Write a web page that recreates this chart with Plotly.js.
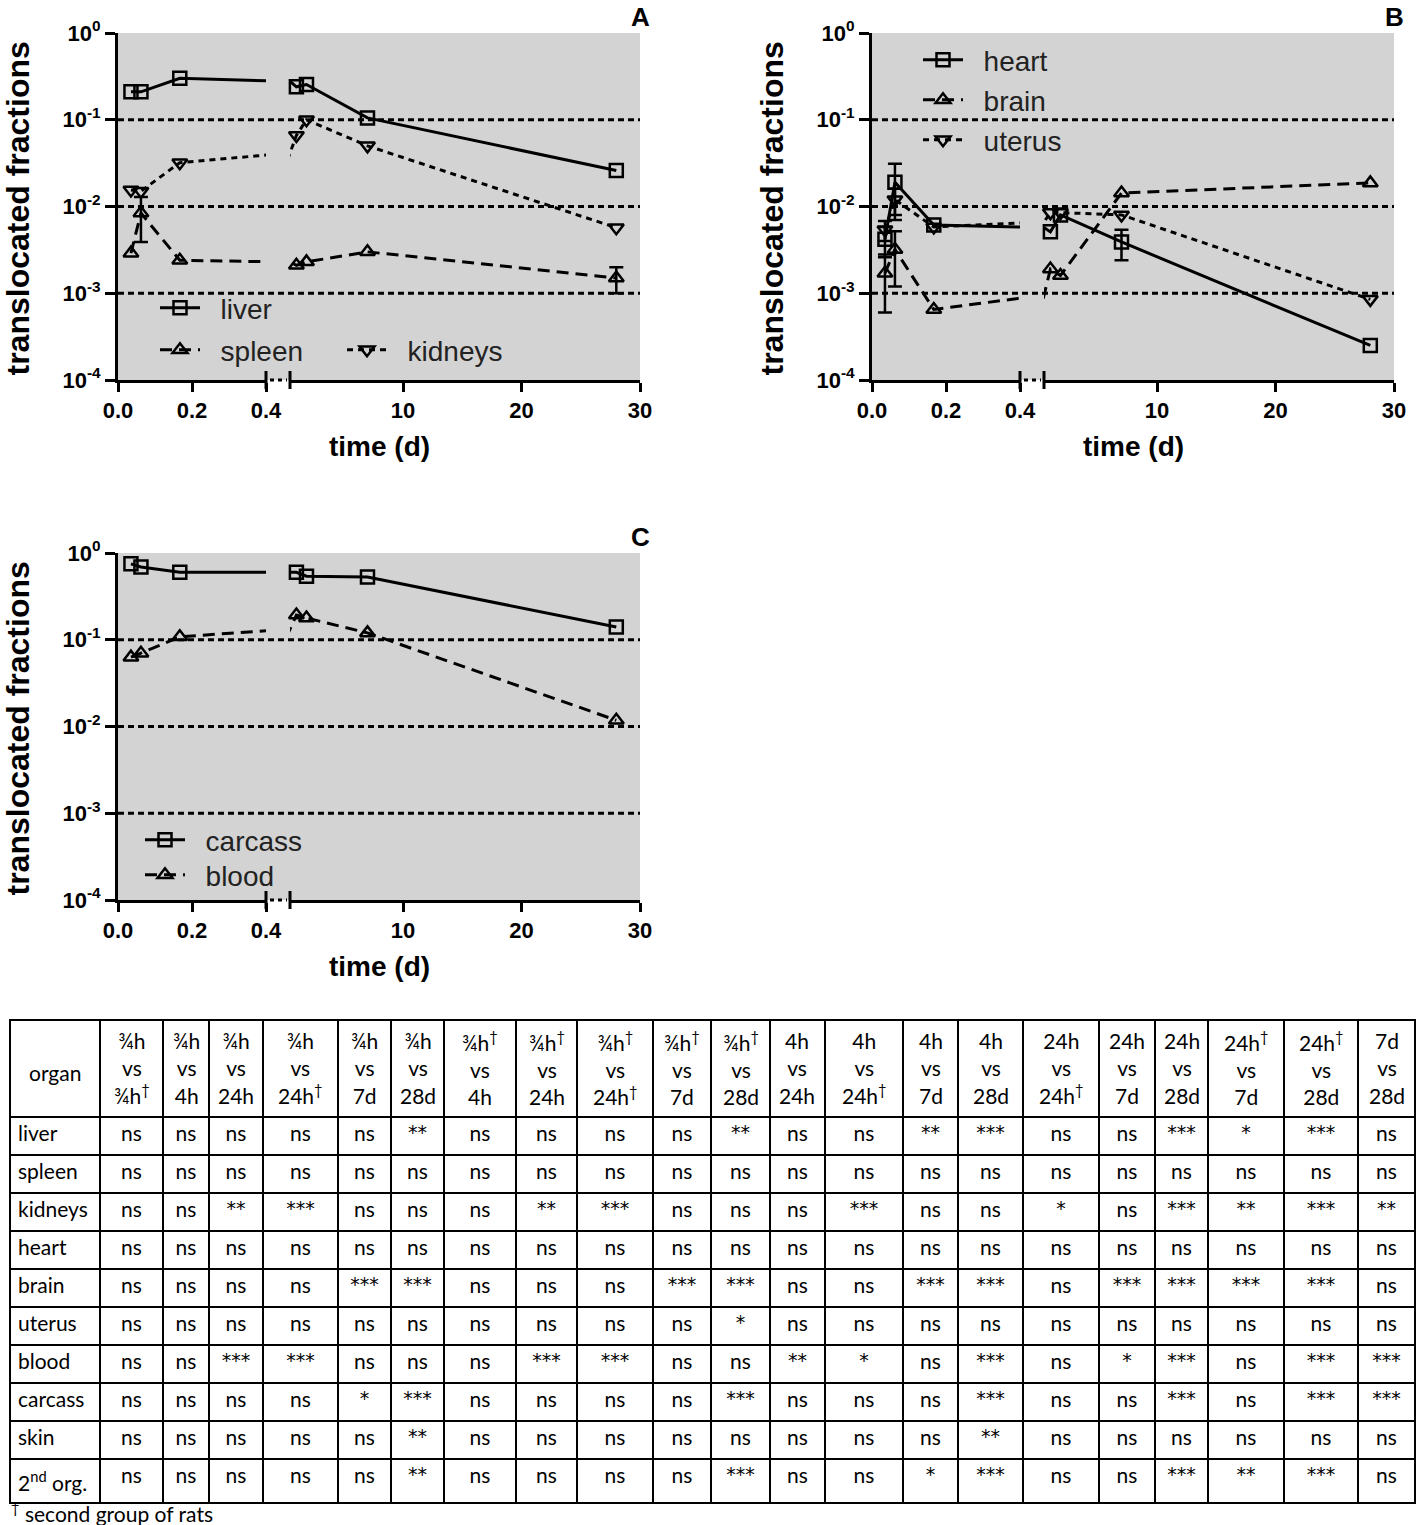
<!DOCTYPE html>
<html><head><meta charset="utf-8">
<script src="https://cdn.plot.ly/plotly-3.0.1.min.js"></script>
<style>html,body{margin:0;padding:0;background:#fff}#chart{width:1417px;height:1525px}</style>
</head><body><div id="chart"></div>
<script>
// ---------------- DATA ----------------
// sampling times in days: 3/4h, 3/4h (2nd group), 4h, 24h, 24h (2nd group), 7d, 28d
const timeDays = [0.035, 0.062, 0.167, 1.0, 1.85, 7, 28];

// Panel A
const liver      = [0.21, 0.21, 0.30, 0.24, 0.255, 0.105, 0.026];
const liverErr   = [null, null, null, null, null, null, null];
const spleen     = [0.0029, 0.0084, 0.0024, 0.0021, 0.0023, 0.0030, 0.0015];
const spleenErr  = [null, 0.0045, null, null, null, null, 0.0005];
const kidneys    = [0.0155, 0.015, 0.032, 0.066, 0.10, 0.050, 0.0057];
const kidneysErr = [null, null, null, null, null, null, null];

// Panel B
const heart      = [0.0042, 0.019, 0.0061, 0.0051, 0.0080, 0.0039, 0.00025];
const heartErr   = [0.0016, 0.012, null, null, null, 0.0015, null];
const brain      = [0.0017, 0.0032, 0.00065, 0.0019, 0.0016, 0.0143, 0.0187];
const brainErr   = [0.0011, 0.0020, null, null, null, null, null];
const uterus     = [0.0054, 0.012, 0.0058, 0.0085, 0.0085, 0.0080, 0.00085];
const uterusErr  = [0.0014, 0.004, null, null, null, null, null];

// Panel C
const carcass    = [0.75, 0.69, 0.60, 0.60, 0.54, 0.53, 0.14];
const carcassErr = [null, null, null, null, null, null, null];
const blood      = [0.063, 0.070, 0.108, 0.193, 0.178, 0.120, 0.0118];
const bloodErr   = [null, null, null, null, null, null, null];

// axis ticks
const leftTicks  = [0, 0.2, 0.4];
const leftTickText = ['0.0', '0.2', '0.4'];
const rightTicks = [10, 20, 30];
const yTicks     = [1e-4, 1e-3, 1e-2, 1e-1, 1];
const yTickText  = ['10<sup>-4</sup>', '10<sup>-3</sup>', '10<sup>-2</sup>', '10<sup>-1</sup>', '10<sup>0</sup>'];
const refLines   = [1e-1, 1e-2, 1e-3];

// Table
const tableHeaders = ['organ',
  '¾h<br>vs<br>¾h<sup>†</sup>', '¾h<br>vs<br>4h', '¾h<br>vs<br>24h', '¾h<br>vs<br>24h<sup>†</sup>', '¾h<br>vs<br>7d', '¾h<br>vs<br>28d',
  '¾h<sup>†</sup><br>vs<br>4h', '¾h<sup>†</sup><br>vs<br>24h', '¾h<sup>†</sup><br>vs<br>24h<sup>†</sup>', '¾h<sup>†</sup><br>vs<br>7d', '¾h<sup>†</sup><br>vs<br>28d',
  '4h<br>vs<br>24h', '4h<br>vs<br>24h<sup>†</sup>', '4h<br>vs<br>7d', '4h<br>vs<br>28d',
  '24h<br>vs<br>24h<sup>†</sup>', '24h<br>vs<br>7d', '24h<br>vs<br>28d',
  '24h<sup>†</sup><br>vs<br>7d', '24h<sup>†</sup><br>vs<br>28d', '7d<br>vs<br>28d'];
const organs = ['liver', 'spleen', 'kidneys', 'heart', 'brain', 'uterus', 'blood', 'carcass', 'skin', '2<sup>nd</sup>\u00a0org.'];
const sigLiver   = ['ns','ns','ns','ns','ns','**','ns','ns','ns','ns','**','ns','ns','**','***','ns','ns','***','*','***','ns'];
const sigSpleen  = ['ns','ns','ns','ns','ns','ns','ns','ns','ns','ns','ns','ns','ns','ns','ns','ns','ns','ns','ns','ns','ns'];
const sigKidneys = ['ns','ns','**','***','ns','ns','ns','**','***','ns','ns','ns','***','ns','ns','*','ns','***','**','***','**'];
const sigHeart   = ['ns','ns','ns','ns','ns','ns','ns','ns','ns','ns','ns','ns','ns','ns','ns','ns','ns','ns','ns','ns','ns'];
const sigBrain   = ['ns','ns','ns','ns','***','***','ns','ns','ns','***','***','ns','ns','***','***','ns','***','***','***','***','ns'];
const sigUterus  = ['ns','ns','ns','ns','ns','ns','ns','ns','ns','ns','*','ns','ns','ns','ns','ns','ns','ns','ns','ns','ns'];
const sigBlood   = ['ns','ns','***','***','ns','ns','ns','***','***','ns','ns','**','*','ns','***','ns','*','***','ns','***','***'];
const sigCarcass = ['ns','ns','ns','ns','*','***','ns','ns','ns','ns','***','ns','ns','ns','***','ns','ns','***','ns','***','***'];
const sigSkin    = ['ns','ns','ns','ns','ns','**','ns','ns','ns','ns','ns','ns','ns','ns','**','ns','ns','ns','ns','ns','ns'];
const sig2nd     = ['ns','ns','ns','ns','ns','**','ns','ns','ns','ns','***','ns','ns','*','***','ns','ns','***','**','***','ns'];
const sigRows = [sigLiver, sigSpleen, sigKidneys, sigHeart, sigBrain, sigUterus, sigBlood, sigCarcass, sigSkin, sig2nd];

// ---------------- LAYOUT HELPERS ----------------
const W = 1417, H = 1525;
const px = v => v / W;
const py = v => 1 - v / H;
const FONT = 'Liberation Sans, Arial, sans-serif';
const TFONT = 'Lato, Open Sans, sans-serif';
const STARFONT = 'DejaVu Sans, sans-serif';
const TSIZE = 21;
const LEFT_RANGE = [0, 0.4];
const RIGHT_RANGE = [0.46, 30];
const NB = '\u00a0\u00a0';

const panels = [
  {id:'A', xl:'x',  xr:'x2', xlk:'xaxis',  xrk:'xaxis2', y:'y',  yk:'yaxis',  L:118, B1:266, B2:290, R:640,  T:33,  Bt:380},
  {id:'B', xl:'x3', xr:'x4', xlk:'xaxis3', xrk:'xaxis4', y:'y2', yk:'yaxis2', L:872, B1:1020, B2:1044, R:1394, T:33,  Bt:380},
  {id:'C', xl:'x5', xr:'x6', xlk:'xaxis5', xrk:'xaxis6', y:'y3', yk:'yaxis3', L:118, B1:266, B2:290, R:640,  T:553, Bt:900},
];

const traces = [];
function addSeries(p, name, y, err, symbol, dash, legendId) {
  const segs = [[p.xl, LEFT_RANGE], [p.xr, RIGHT_RANGE]];
  segs.forEach((s, i) => {
    const e = err.map((v, k) => (v != null && timeDays[k] >= s[1][0] && timeDays[k] <= s[1][1]) ? v : NaN);
    traces.push({
      type: 'scatter', mode: 'lines+markers', name: NB + name,
      x: timeDays, y: y, xaxis: s[0], yaxis: p.y,
      showlegend: i === 0, legend: legendId, cliponaxis: false,
      line: {color: '#000', width: 3, dash: dash},
      marker: {symbol: symbol, size: 13, color: '#000', line: {color: '#000', width: 2.5}},
      error_y: {type: 'data', array: e, visible: true, color: '#000', thickness: 2.5, width: 7}
    });
  });
}
const SOLID = 'solid', DASH = '12px,7px', DOT = '6px,5px';
addSeries(panels[0], 'liver', liver, liverErr, 'square-open', SOLID, 'legend');
addSeries(panels[0], 'spleen', spleen, spleenErr, 'triangle-up-open', DASH, 'legend2');
addSeries(panels[0], 'kidneys', kidneys, kidneysErr, 'triangle-down-open', DOT, 'legend3');
addSeries(panels[1], 'heart', heart, heartErr, 'square-open', SOLID, 'legend4');
addSeries(panels[1], 'brain', brain, brainErr, 'triangle-up-open', DASH, 'legend5');
addSeries(panels[1], 'uterus', uterus, uterusErr, 'triangle-down-open', DOT, 'legend6');
addSeries(panels[2], 'carcass', carcass, carcassErr, 'square-open', SOLID, 'legend7');
addSeries(panels[2], 'blood', blood, bloodErr, 'triangle-up-open', DASH, 'legend8');

// table
const tableBounds = [10,100,163,209,263,338,391,444,516,577,653,711,770,825,903,958,1023,1099,1155,1208,1284,1358,1415];
const colWidths = tableBounds.slice(1).map((b, i) => b - tableBounds[i]);
const tableCols = [organs];
for (let c = 0; c < sigLiver.length; c++) tableCols.push(sigRows.map(r => r[c]));
const isStar = s => s.indexOf('*') >= 0;
const cellFamilies = tableCols.map((col, ci) => col.map(v => (ci > 0 && isStar(v)) ? STARFONT : TFONT));
const cellSizes = tableCols.map((col, ci) => col.map(v => (ci > 0 && isStar(v)) ? 19 : TSIZE));
traces.push({
  type: 'table',
  domain: {x: [px(10), px(1415)], y: [py(1505), py(1020)]},
  columnwidth: colWidths,
  header: {values: tableHeaders.map(() => ''), align: 'center', height: 97,
    font: {family: TFONT, size: TSIZE, color: '#000'}, line: {color: '#000', width: 1.5}, fill: {color: '#fff'}},
  cells: {values: tableCols, align: ['left'].concat(sigLiver.map(() => 'center')), height: 38,
    font: {family: cellFamilies, size: cellSizes, color: '#000'}, line: {color: '#000', width: 1.5}, fill: {color: '#fff'}}
});

const tickFont = {family: FONT, size: 22, color: '#000', weight: 'bold'};
const axCommon = {showline: true, linewidth: 3, linecolor: '#000', ticks: 'outside', ticklen: 9, tickwidth: 3,
  tickcolor: '#000', showgrid: false, zeroline: false, fixedrange: true, tickfont: tickFont};

const layout = {
  width: W, height: H, margin: {l: 0, r: 0, t: 0, b: 0},
  paper_bgcolor: '#fff', plot_bgcolor: 'rgba(0,0,0,0)',
  font: {family: FONT, color: '#000'},
  shapes: [], annotations: []
};

panels.forEach(p => {
  layout[p.xlk] = Object.assign({}, axCommon, {domain: [px(p.L), px(p.B1)], range: LEFT_RANGE, anchor: p.y,
    tickmode: 'array', tickvals: leftTicks, ticktext: leftTickText});
  layout[p.xrk] = Object.assign({}, axCommon, {domain: [px(p.B2), px(p.R)], range: RIGHT_RANGE, anchor: p.y,
    tickmode: 'array', tickvals: rightTicks, ticktext: rightTicks.map(String)});
  layout[p.yk] = Object.assign({}, axCommon, {type: 'log', domain: [py(p.Bt), py(p.T)], range: [-4, 0], anchor: p.xl,
    tickmode: 'array', tickvals: yTicks, ticktext: yTickText, ticklen: 10});
  // grey plotting area
  layout.shapes.push({type: 'rect', layer: 'below', xref: 'paper', yref: 'paper',
    x0: px(p.L), x1: px(p.R), y0: py(p.Bt), y1: py(p.T), fillcolor: '#d3d3d3', line: {width: 0}});
  // dotted reference lines
  refLines.forEach(v => layout.shapes.push({type: 'line', layer: 'below', xref: 'paper', yref: p.y,
    x0: px(p.L), x1: px(p.R), y0: v, y1: v, line: {color: '#000', width: 3, dash: '6px,4px'}}));
  // axis break marks
  [p.B1, p.B2].forEach(bx => layout.shapes.push({type: 'line', xref: 'paper', yref: 'paper',
    x0: px(bx), x1: px(bx), y0: py(p.Bt + 9), y1: py(p.Bt - 9), line: {color: '#000', width: 3}}));
  layout.shapes.push({type: 'line', xref: 'paper', yref: 'paper', x0: px(p.B1 + 4), x1: px(p.B2 - 3),
    y0: py(p.Bt), y1: py(p.Bt), line: {color: '#000', width: 3, dash: '4px,4px'}});
  // titles
  layout.annotations.push({text: 'time (d)', xref: 'paper', yref: 'paper', x: px((p.L + p.R) / 2), y: py(p.Bt + 67),
    xanchor: 'center', yanchor: 'middle', showarrow: false, font: {family: FONT, size: 28, weight: 'bold', color: '#000'}});
  layout.annotations.push({text: 'translocated fractions', xref: 'paper', yref: 'paper', x: px(p.L - 100), y: py((p.T + p.Bt) / 2 + 2),
    xanchor: 'center', yanchor: 'middle', textangle: -90, showarrow: false, font: {family: FONT, size: 32, weight: 'bold', color: '#000'}});
  layout.annotations.push({text: p.id, xref: 'paper', yref: 'paper', x: px(p.R), y: py(p.T - 16),
    xanchor: 'center', yanchor: 'middle', showarrow: false, font: {family: FONT, size: 26, weight: 'bold', color: '#000'}});
});

// table header texts, centred over their columns
tableHeaders.forEach((t, i) => {
  const cx = (tableBounds[i] + tableBounds[i + 1]) / 2;
  layout.annotations.push({text: t, xref: 'paper', yref: 'paper', x: px(cx), y: py(i === 0 ? 1072 : 1068),
    xanchor: 'center', yanchor: 'middle', align: 'center', showarrow: false,
    font: {family: TFONT, size: TSIZE, color: '#000'}});
});

layout.annotations.push({text: '<sup>†</sup> second group of rats', xref: 'paper', yref: 'paper', x: px(9), y: py(1512),
  xanchor: 'left', yanchor: 'middle', showarrow: false, font: {family: TFONT, size: 21, color: '#000'}});

// legends (one per entry for exact placement)
const legendSpots = {
  legend: [163, 308], legend2: [163, 350], legend3: [350, 350],
  legend4: [926, 60], legend5: [926, 100], legend6: [926, 140],
  legend7: [148, 840], legend8: [148, 875]
};
Object.keys(legendSpots).forEach(k => {
  const [lx, ly] = legendSpots[k];
  layout[k] = {x: px(lx - 8), y: py(ly), xanchor: 'left', yanchor: 'middle', bgcolor: 'rgba(0,0,0,0)',
    borderwidth: 0, itemwidth: 40, font: {family: FONT, size: 28, color: '#222'}};
});

Plotly.newPlot('chart', traces, layout, {displayModeBar: false, staticPlot: true});
</script>
</body></html>
